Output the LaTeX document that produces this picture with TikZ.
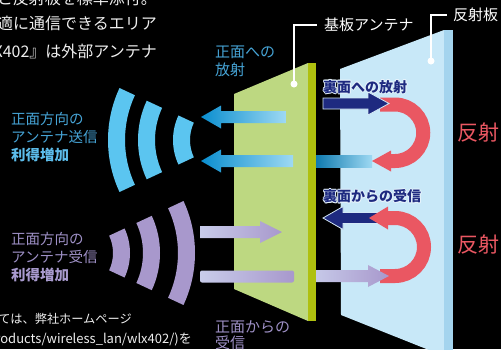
\documentclass[tikz,border=0pt]{standalone}
\usepackage{fontspec}
\setmainfont{Noto Sans CJK JP}
\usetikzlibrary{calc}

\definecolor{plategreen}{HTML}{BDD881}
\definecolor{plateedge}{HTML}{AFC00F}
\definecolor{reflface}{HTML}{C8E8F8}
\definecolor{refledge}{HTML}{A4D4EE}
\definecolor{wavecyan}{HTML}{5BC5F0}
\definecolor{cyandark}{HTML}{0A8ECF}
\definecolor{cyandeep}{HTML}{0070A8}
\definecolor{cyanlight}{HTML}{9ED9F3}
\definecolor{wavelilac}{HTML}{A898CC}
\definecolor{lilaclight}{HTML}{C8CCEA}
\definecolor{navyray}{HTML}{1E2A80}
\definecolor{navyedge}{HTML}{D4E8F6}
\definecolor{turnred}{HTML}{EA5762}
\definecolor{txtblue}{HTML}{46A4D6}
\definecolor{gainblue}{HTML}{5CBCEA}
\definecolor{txtlilac}{HTML}{9E90C6}
\definecolor{gainlilac}{HTML}{A89ACE}
\definecolor{txtwhite}{HTML}{EEEEEE}
\definecolor{haloblue}{HTML}{E6F3FC}

\newcommand\jsize[2]{\fontsize{#1}{#2}\selectfont}

\tikzset{
  lbl/.style={inner sep=0pt, align=left, anchor=west},
  bodytxt/.style={inner sep=0pt, anchor=east, text=txtwhite},
  leader/.style={draw=white, line width=1.1pt},
  backlbl/.style={lbl, font=\bfseries\jsize{14}{16}},
  blueray/.style={left color=cyandark, right color=cyanlight},
  lilacray/.style={left color=lilaclight, right color=wavelilac},
  navyarrow/.style={fill=navyray, draw=navyedge, line width=0.8pt},
  turn/.style={draw=turnred, line width=14pt},
}

\begin{document}
\begin{tikzpicture}[x=1pt,y=-1pt]
\pgfmathsetmacro{\sw}{6}    % half width of a ray
\pgfmathsetmacro{\hw}{11.5} % half width of a head
\pgfmathsetmacro{\hl}{21}   % length of a head
\fill[black] (0,0) rectangle (501,349);
\useasboundingbox (0,0) rectangle (501,349);
\clip (0,0) rectangle (501,349);

% body text around the figure
\node[bodytxt, font=\jsize{16}{20}] (txta) at (157,-2) {基板アンテナと反射板を標準添付。};
\node[bodytxt, font=\jsize{16}{20}] (txtb) at (157,23.5) {快適に通信できるエリア};
\node[bodytxt, font=\jsize{16}{20}] (txtc) at (157,51.5) {『WLX402』は外部アンテナ};
\node[bodytxt, font=\jsize{12.2}{16}] (txtd) at (132,319) {詳細については、弊社ホームページ};
\node[bodytxt, font=\jsize{13}{16}] (txte) at (192,340) {(http://buffalo.jp/products/wireless\_lan/wlx402/)を};

% reflector plate
\fill[reflface] (340,69) -- (444,30) -- (444,356) -- (341,315) -- cycle;
\fill[refledge] (444,30) rectangle (453,356);

% rays behind the substrate
\shade[left color=cyandeep, right color=cyanlight] (310,155) rectangle (372,167);
\filldraw[navyarrow] (323,218) -- ++(20,-\hw) -- ++(0,\hw-5.5) -- ++(40,0) -- ++(0,11) -- ++(-40,0) -- ++(0,\hw-5.5) -- cycle;

% reflections
\draw[turn] (380,104.5) -- (395,104.5) arc[start angle=-90,end angle=90,radius=28.25] -- (388,161);
\fill[turnred] (372,161) -- ++(19,-10.5) -- ++(0,21) -- cycle;
\draw[turn] (380,276) -- (395,276) arc[start angle=90,end angle=-90,radius=29] -- (386,218);
\fill[turnred] (369,218) -- ++(19,-\hw) -- ++(0,2*\hw) -- cycle;

\filldraw[navyarrow] (389,103.5) -- ++(-\hl,-\hw) -- ++(0,\hw-5.5) -- ++(-45,0) -- ++(0,11) -- ++(45,0) -- ++(0,\hw-5.5) -- cycle;
\shade[lilacray] (389,276) -- ++(-\hl,-11) -- ++(0,11-\sw) -- ++(-58,0) -- ++(0,2*\sw) -- ++(58,0) -- ++(0,11-\sw) -- cycle;

% substrate antenna
\fill[plategreen] (234,94) -- (308,63) -- (308,321) -- (234,289) -- cycle;
\fill[plateedge] (308,63) rectangle (316,321);

% rays on the front face
\shade[blueray] (201,117) -- ++(20,-\hw) -- ++(0,\hw-\sw) -- ++(65,0) -- ++(0,2*\sw) -- ++(-65,0) -- ++(0,\hw-\sw) -- cycle;
\shade[blueray] (201,161) -- ++(20,-\hw) -- ++(0,\hw-\sw) -- ++(72,0) -- ++(0,2*\sw) -- ++(-72,0) -- ++(0,\hw-\sw) -- cycle;
\shade[lilacray] (282,232) -- ++(-22,-11) -- ++(0,11-\sw) -- ++(-60,0) -- ++(0,2*\sw) -- ++(60,0) -- ++(0,11-\sw) -- cycle;
\shade[lilacray, rounded corners=2pt] (200,270.5) rectangle (294,282.5);

% waves
\begin{scope}[shift={(231,140)}]
\foreach \ro/\ri in {58/41,93/76,123/106}
  \fill[wavecyan] (155:\ro) arc[start angle=155,end angle=205,radius=\ro] -- (205:\ri) arc[start angle=205,end angle=155,radius=\ri] -- cycle;
\end{scope}
\begin{scope}[shift={(72,253)}]
\foreach \ro/\ri in {58/41,88/71,123/106}
  \fill[wavelilac] (-25:\ro) arc[start angle=-25,end angle=25,radius=\ro] -- (25:\ri) arc[start angle=25,end angle=-25,radius=\ri] -- cycle;
\end{scope}

% labels
\node[lbl, txtblue, font=\jsize{15}{18}] (frontout) at (215,61) {正面への\\放射};
\node[lbl, txtblue, font=\jsize{14.5}{18}] (sendgain) at (11,137) {正面方向の\\アンテナ送信\\{\bfseries\color{gainblue}利得増加}};
\node[lbl, txtlilac, font=\jsize{14.5}{18}] (recvgain) at (11,257) {正面方向の\\アンテナ受信\\{\bfseries\color{gainlilac}利得増加}};
\node[lbl, txtlilac, font=\jsize{15}{16.5}] (frontin) at (215,335) {正面からの\\受信};
\foreach \a in {0,45,...,315}{
  \node[backlbl, haloblue] at ([shift={(\a:0.9)}]323,87) {裏面への放射};
  \node[backlbl, haloblue] at ([shift={(\a:0.9)}]323,196.5) {裏面からの受信};
}
\node[backlbl, navyray] (backout) at (323,87) {裏面への放射};
\node[backlbl, navyray] (backin) at (323,196.5) {裏面からの受信};
\node[lbl, turnred, font=\jsize{21}{24}] (turnup) at (457,133) {反射};
\node[lbl, turnred, font=\jsize{21}{24}] (turndown) at (457,245) {反射};

% leaders
\node[lbl, white, font=\jsize{15}{18}] (kiban) at (324,25) {基板アンテナ};
\node[lbl, white, font=\jsize{15}{18}] (hanshaban) at (453,15) {反射板};
\coordinate (kibandot) at (294,84);
\coordinate (hanshadot) at (431,61);
\draw[leader, shorten >=7pt] (kibandot) |- (kiban.west);
\draw[leader, shorten >=6pt] (hanshadot) |- (hanshaban.west);
\fill[white] (kibandot) circle (3.5);
\fill[white] (hanshadot) circle (3.5);
\end{tikzpicture}
\end{document}
